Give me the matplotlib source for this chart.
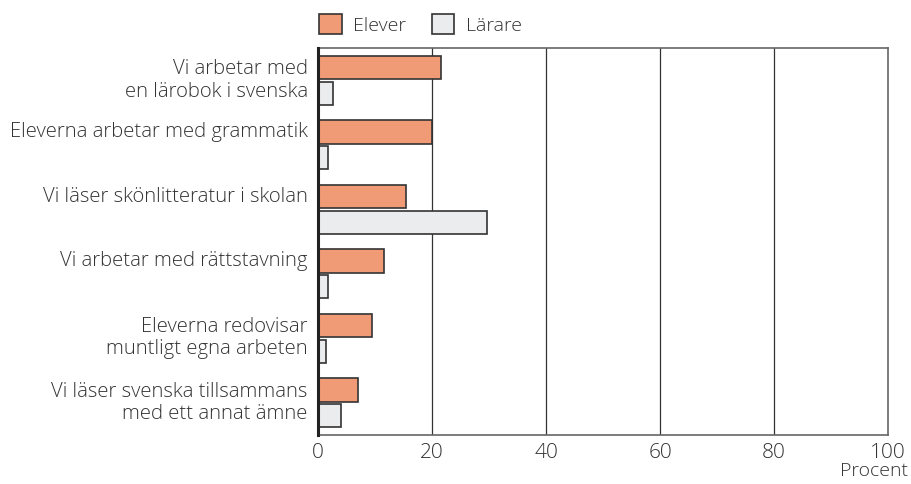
import numpy as np
import matplotlib.pyplot as plt
from matplotlib.patches import Patch

plt.rcParams['font.family'] = ['Open Sans', 'DejaVu Sans']
plt.rcParams['font.weight'] = 'light'

labels = ['Vi arbetar med\nen lärobok i svenska',
          'Eleverna arbetar med grammatik',
          'Vi läser skönlitteratur i skolan',
          'Vi arbetar med rättstavning',
          'Eleverna redovisar\nmuntligt egna arbeten',
          'Vi läser svenska tillsammans\nmed ett annat ämne']
elever = [21.5, 20.0, 15.4, 11.5, 9.5, 7.1]
larare = [2.6, 1.8, 29.7, 1.8, 1.5, 4.1]
xticks = [0, 20, 40, 60, 80, 100]

c_elev = '#F09B76'
c_lar = '#EBECEE'
edge = '#333333'
txt = '#333333'

fig = plt.figure(figsize=(9.11, 4.84), dpi=100)
ax = fig.add_axes([0.349, 0.1012, 0.626, 0.799])

y = np.arange(len(labels)) + 0.5
h = 0.36
ax.barh(y - 0.2, elever, height=h, color=c_elev, edgecolor=edge, linewidth=1.2, zorder=3)
ax.barh(y + 0.2, larare, height=h, color=c_lar, edgecolor=edge, linewidth=1.2, zorder=3)

ax.set_xlim(0, 100)
ax.set_ylim(len(labels), 0)
ax.set_xticks(xticks)
ax.set_xticklabels([str(t) for t in xticks], fontsize=15, color=txt)
ax.tick_params(axis='x', length=0, pad=6)
ax.set_yticks([])
for t in [20, 40, 60, 80]:
    ax.axvline(t, color='#333333', linewidth=0.9, zorder=1)

for s in ['top', 'right', 'bottom']:
    ax.spines[s].set_color('#666666')
    ax.spines[s].set_linewidth(1.2)
ax.spines['left'].set_color('#222222')
ax.spines['left'].set_linewidth(2.2)
ax.spines['left'].set_zorder(4)

for yi, lab in zip(y, labels):
    yy = yi if '\n' in lab else yi - 0.2
    ax.text(-1.8, yy, lab, ha='right', va='center', fontsize=14.6, color=txt,
            linespacing=1.15)

handles = [Patch(facecolor=c_elev, edgecolor=edge, linewidth=1.2, label='Elever'),
           Patch(facecolor=c_lar, edgecolor=edge, linewidth=1.2, label='Lärare')]
leg = ax.legend(handles=handles, loc='lower left', bbox_to_anchor=(-0.008, 1.02),
                ncol=2, frameon=False, fontsize=14, handlelength=1.15,
                handleheight=1.15, handletextpad=0.6, columnspacing=1.3,
                borderaxespad=0.1, borderpad=0.2)
for t in leg.get_texts():
    t.set_color(txt)

fig.text(908 / 911, 0.008, 'Procent', ha='right', va='bottom', fontsize=14, color=txt)

fig.savefig('out.png', dpi=100)
